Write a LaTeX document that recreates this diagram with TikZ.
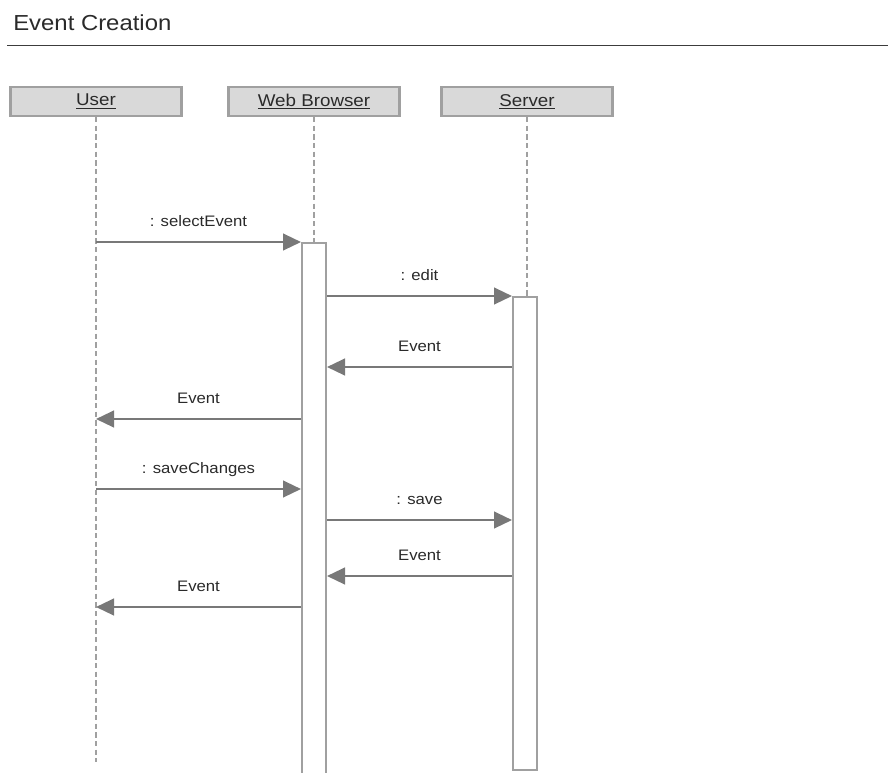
\documentclass[tikz,border=0pt]{standalone}
\usepackage{fontspec}
\setmainfont{Liberation Sans}[FakeStretch=1.1]
\usetikzlibrary{arrows.meta,positioning}
\definecolor{cInk}{HTML}{2A2A2A}
\definecolor{cRule}{HTML}{3C3C3C}
\definecolor{cHead}{HTML}{D9D9D9}
\definecolor{cEdge}{HTML}{A0A0A0}
\definecolor{cMsg}{HTML}{787878}
\tikzset{
  head/.style={draw=cEdge,fill=cHead,line width=1.8pt,minimum width=128pt,minimum height=21.5pt,
               inner sep=0pt,text=cInk,font=\fontsize{12.8}{14}\selectfont},
  life/.style={draw=cEdge,line width=1.2pt,dash pattern=on 4pt off 2.5pt},
  act/.style={draw=cEdge,fill=white,line width=1.5pt,minimum width=18pt,inner sep=0pt,anchor=north},
  msg/.style={-{Triangle[length=13.5pt,width=12.5pt]},draw=cMsg,line width=1.7pt},
  lbl/.style={above=10.5pt,inner sep=0pt,text height=8.5pt,text depth=0pt,text=cInk,
              font=\fontsize{11.4}{13}\selectfont},
}

\begin{document}
\begin{tikzpicture}[x=0.75pt,y=-0.75pt]
\useasboundingbox (0,0) rectangle (888,772);
% title and rule
\node[anchor=base west,inner sep=0pt,text=cInk,font=\fontsize{16.3}{19}\selectfont] (title) at (13,30) {Event Creation};
\draw[cRule,line width=0.8pt] (7,45.5) -- (888,45.5);

% lifeline heads
\node[head] (user)    at (96,101.5)  {\underline{User}};
\node[head] (browser) at (314,101.5) {\underline{Web Browser}};
\node[head] (server)  at (527,101.5) {\underline{Server}};

% activation bars
\node[act,minimum height=410pt] (actB) at (314,242) {};
\node[act,minimum height=355pt] (actS) at (525,296) {};

% lifelines
\coordinate (uEnd) at (96,762);
\draw[life] (user.south) -- (uEnd);
\draw[life] (browser.south) -- (browser.south |- actB.north);
\draw[life] (server.south) -- (server.south |- actS.north);

% message rows
\coordinate (r1) at (0,242);
\coordinate (r2) at (0,296);
\coordinate (r3) at (0,367);
\coordinate (r4) at (0,419);
\coordinate (r5) at (0,489);
\coordinate (r6) at (0,520);
\coordinate (r7) at (0,576);
\coordinate (r8) at (0,607);

\draw[msg] (user |- r1) -- node[lbl] {: selectEvent} (actB.west |- r1);
\draw[msg] (actB.east |- r2) -- node[lbl] {: edit} (actS.west |- r2);
\draw[msg] (actS.west |- r3) -- node[lbl] {Event} (actB.east |- r3);
\draw[msg] (actB.west |- r4) -- node[lbl] {Event} (user |- r4);
\draw[msg] (user |- r5) -- node[lbl] {: saveChanges} (actB.west |- r5);
\draw[msg] (actB.east |- r6) -- node[lbl] {: save} (actS.west |- r6);
\draw[msg] (actS.west |- r7) -- node[lbl] {Event} (actB.east |- r7);
\draw[msg] (actB.west |- r8) -- node[lbl] {Event} (user |- r8);
\end{tikzpicture}
\end{document}
